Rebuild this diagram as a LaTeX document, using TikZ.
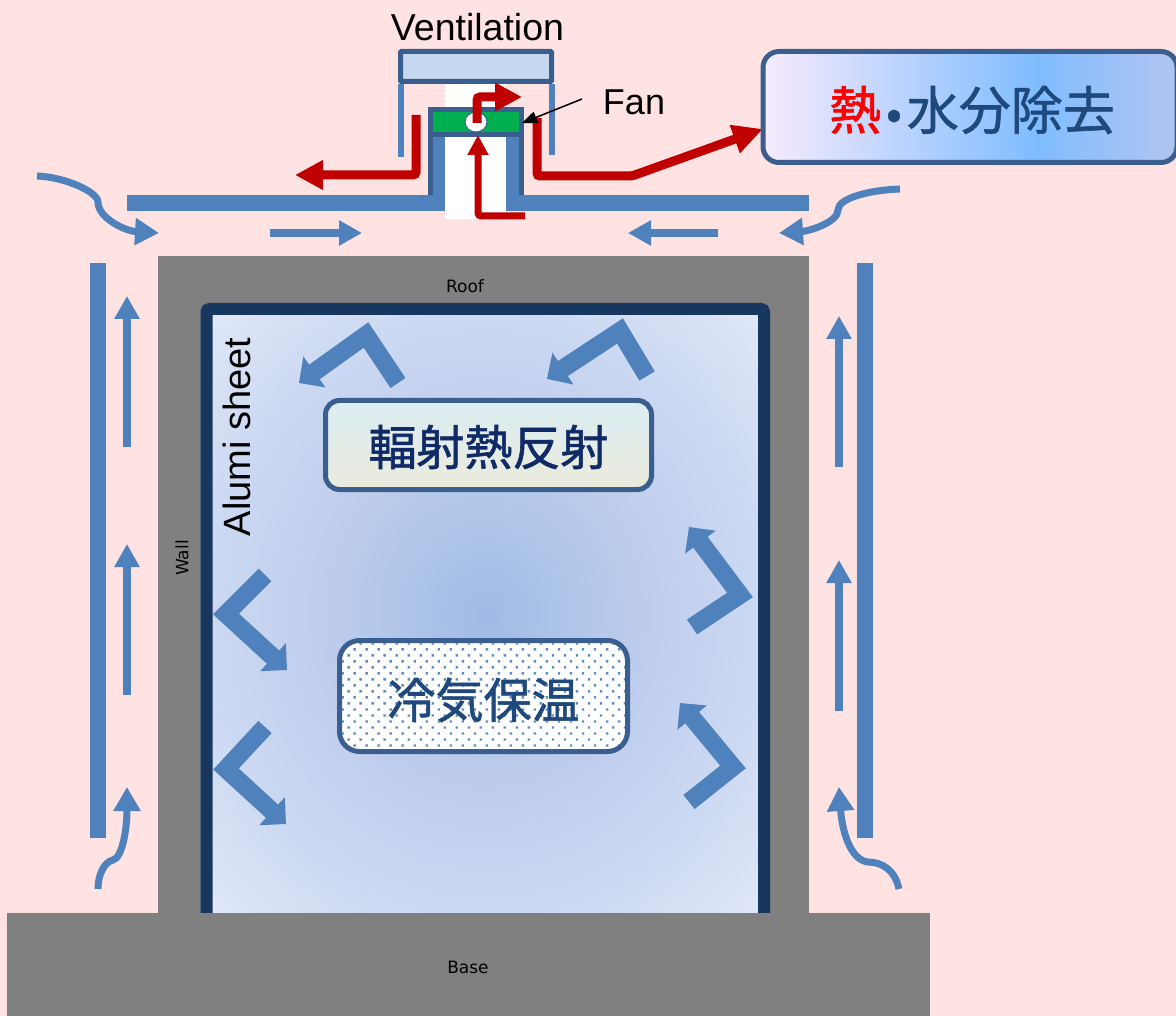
\documentclass[tikz,border=0pt]{standalone}
\usepackage{fontspec}
\setmainfont{Liberation Sans}
\newfontfamily\cjk[FakeBold=1.2]{Noto Sans CJK JP}
\newfontfamily\smallsans{DejaVu Sans}
\usetikzlibrary{arrows.meta,positioning,patterns.meta}

\definecolor{pinkbg}{HTML}{FFE3E3}
\definecolor{airblue}{HTML}{4F81BD}
\definecolor{edgeblue}{HTML}{3A5F8F}
\definecolor{sheetnavy}{HTML}{17375E}
\definecolor{capblue}{HTML}{C6D9F1}
\definecolor{fangreen}{HTML}{00B050}
\definecolor{hotred}{HTML}{C00000}
\definecolor{textblue}{HTML}{1F497D}
\definecolor{textnavy}{HTML}{0F2A66}

\pgfdeclareradialshading{roomglow}{\pgfpoint{0bp}{0bp}}{rgb(0bp)=(0.63,0.73,0.90);rgb(7bp)=(0.68,0.77,0.91);rgb(14bp)=(0.74,0.80,0.93);rgb(25bp)=(0.80,0.85,0.95);rgb(36bp)=(0.88,0.91,0.97);rgb(50bp)=(0.88,0.91,0.97)}
\pgfdeclarehorizontalshading{drainglow}{100bp}{rgb(0bp)=(0.97,0.92,0.99);rgb(25bp)=(0.97,0.92,0.99);rgb(58bp)=(0.50,0.74,1.0);rgb(75bp)=(0.70,0.77,0.94);rgb(100bp)=(0.70,0.77,0.94)}

\tikzset{
    blockgray/.style={fill=black!50,draw=none},
    flowbar/.style={fill=airblue,draw=none},
    airflow/.style={draw=airblue,line width=8pt,-{Triangle[length=23pt,width=24pt]}},
    aircurl/.style={draw=airblue,line width=7pt,-{Triangle[length=24pt,width=26pt]}},
    airbend/.style={draw=airblue,line width=18pt,-{Triangle[length=19pt,width=37pt]}},
    heatflow/.style={draw=hotred,line width=9pt,rounded corners=3pt,-{Triangle[length=28pt,width=28pt]}},
    infobox/.style={draw=edgeblue,line width=5pt,rounded corners=14pt,inner sep=0pt},
}

\begin{document}
\begin{tikzpicture}[x=1pt,y=-1pt]
    \useasboundingbox (0,0) rectangle (1176,1016);
    \fill[pinkbg] (0,0) rectangle (1176,1016);

    %building
    \fill[blockgray] (158,256) rectangle (809,913);
    \shade[shading=roomglow] (212,315) rectangle (758,913);
    \draw[sheetnavy,line width=12pt,rounded corners=3pt] (206.5,913) -- (206.5,309) -- (764,309) -- (764,913);
    \fill[blockgray] (7,913) rectangle (930,1016);
    \node (roof) at (465,286) {\smallsans\fontsize{17}{18}\selectfont Roof};
    \node[rotate=90] (wall) at (182,558) {\smallsans\fontsize{17}{18}\selectfont Wall};
    \node (base) at (468,967) {\smallsans\fontsize{17}{18}\selectfont Base};
    \node[rotate=90] (alumi) at (237,437) {\fontsize{38}{40}\selectfont Alumi sheet};

    %roof vent
    \fill[white] (445,84) rectangle (506,107);
    \fill[flowbar] (127,195) rectangle (445,211);
    \fill[flowbar] (506,195) rectangle (809,211);
    \filldraw[fill=airblue,draw=edgeblue,line width=5pt] (430.5,195) -- (430.5,109.5) -- (521.5,109.5) -- (521.5,195);
    \fill[white] (445,137) rectangle (506,219);
    \filldraw[fill=fangreen,draw=edgeblue,line width=5pt] (430.5,109.5) rectangle (521.5,134.5);
    \fill[flowbar] (398,84) rectangle (404,157);
    \fill[flowbar] (549,84) rectangle (555,155);
    \filldraw[fill=capblue,draw=edgeblue,line width=5pt,rounded corners=1pt] (400.5,51.5) rectangle (551.5,81.5);
    \filldraw[fill=white,draw=edgeblue,line width=1pt] (476,122) ellipse (11 and 10);
    \node (ventilation) at (477.5,27) {\fontsize{37.5}{40}\selectfont Ventilation};
    \node (fan) at (634,102) {\fontsize{36}{40}\selectfont Fan};

    %heat path
    \draw[heatflow] (416,115) -- (416,175) -- (295,175);
    \draw[heatflow,-{Triangle[length=30pt,width=28pt]}] (537,118) -- (537,176) -- (632,176) -- (763,129);
    \draw[heatflow,line width=7pt,-{Triangle[length=20pt,width=20pt]}] (525,216) -- (478,216) -- (478,135);
    \draw[heatflow,-{Triangle[length=27pt,width=27pt]}] (477,123) -- (477,97) -- (522,97);
    \draw[black,line width=1.5pt,-{Triangle[length=15pt,width=12pt]}] (582,99) -- (522,123);

    %outside air
    \fill[flowbar] (90,263) rectangle (106,838);
    \fill[flowbar] (857,263) rectangle (873,838);
    \draw[airflow] (270,233) -- (362,233);
    \draw[airflow] (718,233) -- (628,233);
    \draw[airflow] (127,447) -- (127,296);
    \draw[airflow] (127,695) -- (127,544);
    \draw[airflow] (839,467) -- (839,316);
    \draw[airflow] (839,711) -- (839,560);
    \draw[aircurl] (37,176) .. controls (65,177) and (98,192) .. (98,202) .. controls (98,218) and (125,231) .. (159,233);
    \draw[aircurl] (900,189) .. controls (870,190) and (838,198) .. (838,210) .. controls (838,222) and (810,231) .. (779,233);
    \draw[aircurl] (98,889) .. controls (98,875) and (104,862) .. (113,860) .. controls (122,858) and (127,830) .. (127,787);
    \draw[aircurl] (899,889) .. controls (895,870) and (882,862) .. (868,862) .. controls (850,860) and (842,830) .. (839,787);

    %inside air
    \draw[airbend] (398,383) -- (366,335) -- (299,383);
    \draw[airbend] (647,376) -- (620,331) -- (547,379);
    \draw[airbend] (265,575) -- (226,614) -- (287,670);
    \draw[airbend] (265,727) -- (226,769) -- (286,824);
    \draw[airbend] (692,627) -- (740,595) -- (689,527);
    \draw[airbend] (689,802) -- (733,767) -- (680,703);

    %labels
    \node[infobox,minimum width=326pt,minimum height=89pt,top color={rgb,1:red,0.86;green,0.93;blue,0.95},bottom color={rgb,1:red,0.92;green,0.92;blue,0.86}] (reflect) at (488.5,445) {};
    \node (reflecttext) at (488.5,447) {\cjk\color{textnavy}\fontsize{48}{50}\selectfont 輻射熱反射};
    \node[infobox,fill=white,rounded corners=20pt,minimum width=288pt,minimum height=111pt] (keepcool) at (483.5,696) {};
    \fill[pattern={Dots[radius=1.7pt,distance=8.5pt,angle=45]},pattern color=airblue!90] (342,643) [rounded corners=17pt] rectangle (625,749);
    \node (keepcooltext) at (483.5,700) {\cjk\color{textblue}\fontsize{48}{50}\selectfont 冷気保温};
    \node[infobox,shading=drainglow,rounded corners=16pt,minimum width=414pt,minimum height=111pt] (remove) at (970,107) {};
    \node (removetext) at (972,110) {\cjk\color{textblue}\fontsize{52}{54}\selectfont\textcolor{red}{熱}\hspace{5pt}{\fontsize{46}{46}\selectfont•}\hspace{5pt}水分除去};
\end{tikzpicture}
\end{document}
